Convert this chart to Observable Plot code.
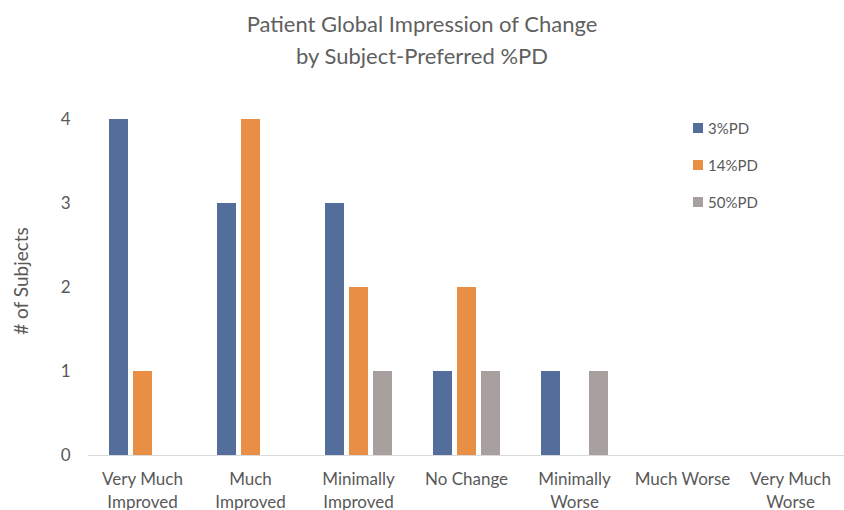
<!DOCTYPE html>
<html><head><meta charset="utf-8">
<script src="https://cdn.jsdelivr.net/npm/d3@7"></script>
<script src="https://cdn.jsdelivr.net/npm/@observablehq/plot@0.6"></script>
<style>
body{margin:0;background:#fff;font-family:Lato,"Open Sans",sans-serif;}
#wrap{position:relative;width:844px;height:510px;overflow:hidden;}
#title{height:90px;text-align:center;color:#5f5f5f;font-size:22px;line-height:32px;padding-top:8px;box-sizing:border-box;}
#legend{position:absolute;left:693px;top:0;}
.lg{position:absolute;left:0;display:flex;align-items:center;white-space:nowrap;font-size:15px;color:#595959;height:20px;}
.sw{width:10px;height:10px;margin-right:5px;}
#ylabel{position:absolute;left:20px;top:281px;transform:translate(-50%,-50%) rotate(-90deg);white-space:nowrap;font-size:19px;color:#595959;}
</style></head>
<body>
<div id="wrap">
<div id="title">Patient Global Impression of Change<br>by Subject-Preferred %PD</div>
<div id="chart"></div>
<div id="ylabel"></div>
<div id="legend"></div>
</div>
<script>
const categories = ["Very Much Improved","Much Improved","Minimally Improved","No Change","Minimally Worse","Much Worse","Very Much Worse"];
const tickLabels = ["Very Much\nImproved","Much\nImproved","Minimally\nImproved","No Change","Minimally\nWorse","Much Worse","Very Much\nWorse"];
const series = ["3%PD","14%PD","50%PD"];
const colors = ["#546e9c","#e98e45","#a7a09f"];
const values3 = [4,3,3,1,1,0,0];
const values14 = [1,4,2,2,0,0,0];
const values50 = [0,0,1,1,1,0,0];
const yTicks = [0,1,2,3,4];
const yLabel = "# of Subjects";

const seriesValues = [values3, values14, values50];
const rows = [];
categories.forEach((c,i)=>series.forEach((s,j)=>rows.push({category:c, series:s, value:seriesValues[j][i]})));

const chart = Plot.plot({
  width: 844, height: 420,
  marginLeft: 88, marginRight: 0, marginTop: 29, marginBottom: 55,
  style: {fontFamily: "Lato, 'Open Sans', sans-serif", color: "#595959", background: "white"},
  fx: {domain: categories, padding: 0, label: null},
  x: {domain: series, paddingInner: 0.22, paddingOuter: 0.85, axis: null},
  y: {domain: [0,4]},
  color: {domain: series, range: colors},
  marks: [
    Plot.ruleY([0], {stroke: "#d9d9d9", strokeWidth: 1}),
    Plot.barY(rows, {fx: "category", x: "series", y: "value", fill: "series", filter: d => d.value > 0}),
    Plot.axisY({ticks: yTicks, tickFormat: d3.format("d"), tickSize: 0, tickPadding: 18, fontSize: 17, label: null}),
    Plot.axisFx({anchor: "bottom", tickSize: 0, tickPadding: 13, fontSize: 17, lineHeight: 1.35, label: null, tickFormat: d => tickLabels[categories.indexOf(d)]})
  ]
});
document.getElementById("chart").appendChild(chart);
document.getElementById("ylabel").textContent = yLabel;

const lg = document.getElementById("legend");
const tops = [118, 155, 192];
series.forEach((s,i)=>{
  const r = document.createElement("div");
  r.className = "lg"; r.style.top = tops[i] + "px";
  r.innerHTML = `<span class="sw" style="background:${colors[i]}"></span>${s}`;
  lg.appendChild(r);
});
</script>
</body></html>
